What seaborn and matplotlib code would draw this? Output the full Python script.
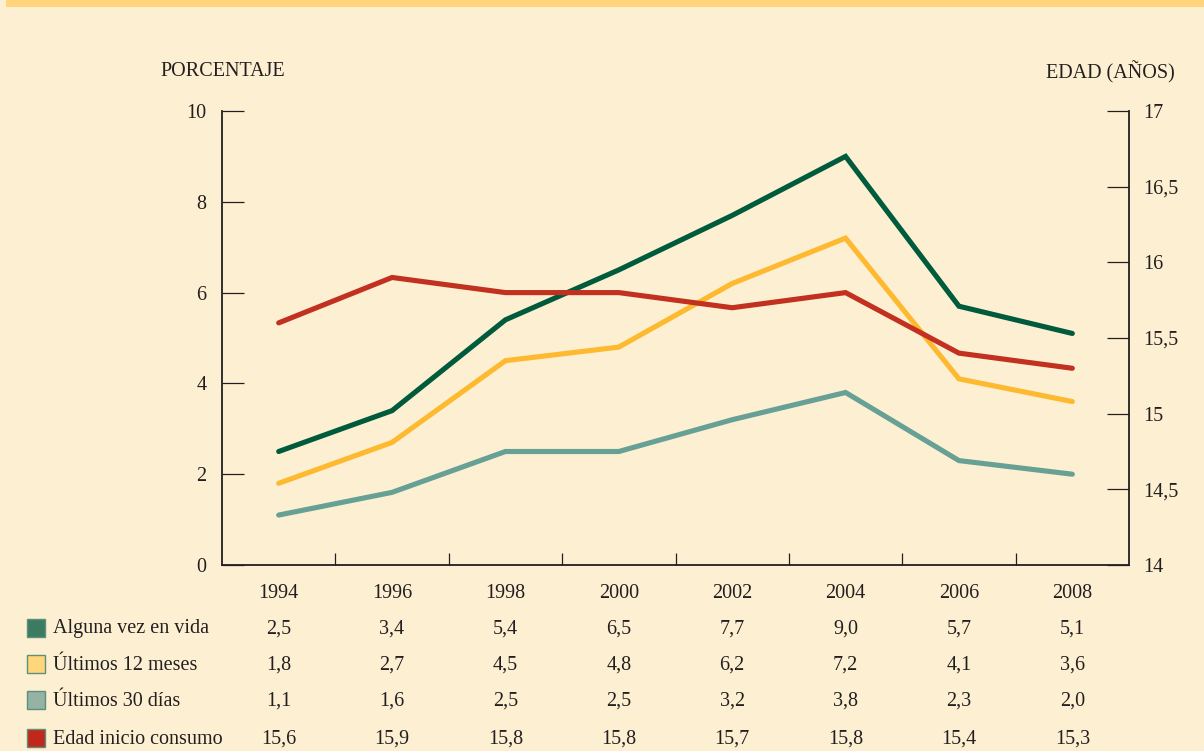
import matplotlib
matplotlib.use("Agg")
import matplotlib.pyplot as plt
from matplotlib.patches import Rectangle
from matplotlib.ticker import FuncFormatter
import pandas as pd
import seaborn as sns

# ---- data -------------------------------------------------------------
years = [1994, 1996, 1998, 2000, 2002, 2004, 2006, 2008]
alguna_vez = [2.5, 3.4, 5.4, 6.5, 7.7, 9.0, 5.7, 5.1]
ultimos_12 = [1.8, 2.7, 4.5, 4.8, 6.2, 7.2, 4.1, 3.6]
ultimos_30 = [1.1, 1.6, 2.5, 2.5, 3.2, 3.8, 2.3, 2.0]
edad_inicio = [15.6, 15.9, 15.8, 15.8, 15.7, 15.8, 15.4, 15.3]

series_labels = ["Alguna vez en vida", "Últimos 12 meses",
                 "Últimos 30 días", "Edad inicio consumo"]
left_title = "PORCENTAJE"
right_title = "EDAD (AÑOS)"

# ---- style --------------------------------------------------------------
BG = "#fdf0d2"
BAND = "#ffd47a"
INK = "#231f20"
FS = 14.5
line_colors = ["#005a3c", "#fdb92f", "#67a094", "#c2301f"]
swatch_colors = ["#3d7a62", "#ffd67a", "#94b3a4", "#c0281b"]

sns.set_style("ticks")
plt.rcParams["font.family"] = ["Liberation Serif", "DejaVu Serif"]
plt.rcParams["font.size"] = FS
plt.rcParams["text.color"] = INK
plt.rcParams["axes.edgecolor"] = INK
plt.rcParams["xtick.color"] = INK
plt.rcParams["ytick.color"] = INK

W, H = 1204, 751
fig = plt.figure(figsize=(W / 100, H / 100), dpi=100, facecolor=BG)

# top band
fig.patches.append(Rectangle((6 / W, 1 - 7 / H), 1 - 6 / W, 7 / H,
                             transform=fig.transFigure, facecolor=BAND,
                             edgecolor="none", zorder=0))

x0, x1, y0, y1 = 222, 1129, 111, 565
ax = fig.add_axes([x0 / W, 1 - y1 / H, (x1 - x0) / W, (y1 - y0) / H])
ax.set_facecolor("none")

pct = pd.DataFrame({
    "año": years * 3,
    "valor": alguna_vez + ultimos_12 + ultimos_30,
    "serie": ([series_labels[0]] * len(years) + [series_labels[1]] * len(years)
              + [series_labels[2]] * len(years)),
})
line_kw = dict(linewidth=3.7, solid_capstyle="round", solid_joinstyle="miter")
sns.lineplot(data=pct, x="año", y="valor", hue="serie",
             hue_order=series_labels[:3], palette=line_colors[:3],
             legend=False, ax=ax, **line_kw)

ax2 = ax.twinx()
ax2.set_facecolor("none")
edad = pd.DataFrame({"año": years, "edad": edad_inicio})
sns.lineplot(data=edad, x="año", y="edad", color=line_colors[3],
             legend=False, ax=ax2, **line_kw)

# ---- axes -------------------------------------------------------------
ax.set_xlim(years[0] - 1, years[-1] + 1)
ax.set_ylim(0, 10)
ax.set_yticks(range(0, 11, 2))
ax.set_xticks(years)
ax.set_xticks([y + 1 for y in years[:-1]], minor=True)
ax.set_xlabel("")
ax.set_ylabel("")
ax.tick_params(axis="x", which="major", length=0, pad=14, labelsize=FS)
ax.tick_params(axis="x", which="minor", direction="in", length=8.6, width=0.9)
ax.tick_params(axis="y", direction="in", length=16, width=0.9, pad=11,
               labelsize=FS)
for s in ("top", "right"):
    ax.spines[s].set_visible(False)
for s in ("left", "bottom"):
    ax.spines[s].set_linewidth(1.3)

ax2.set_ylim(14, 17)
ax2.set_yticks([14 + 0.5 * i for i in range(7)])
ax2.yaxis.set_major_formatter(
    FuncFormatter(lambda v, _: (f"{v:g}").replace(".", ",")))
ax2.set_ylabel("")
ax2.tick_params(axis="y", direction="in", length=16, width=0.9, pad=10,
                labelsize=FS)
for s in ("top", "left", "bottom"):
    ax2.spines[s].set_visible(False)
ax2.spines["right"].set_linewidth(1.3)

fig.text(223 / W, 1 - 72 / H, left_title, ha="center", va="center", fontsize=FS)
fig.text(1110 / W, 1 - 72 / H, right_title, ha="center", va="center", fontsize=FS)

# ---- data table below the chart ----------------------------------------
table_rows = [alguna_vez, ultimos_12, ultimos_30, edad_inicio]
row_y = [629, 665, 701, 739]
col_tf = matplotlib.transforms.blended_transform_factory(ax.transData,
                                                         fig.transFigure)
for label, values, sw, yy in zip(series_labels, table_rows, swatch_colors, row_y):
    fy = 1 - yy / H
    fig.patches.append(Rectangle((27 / W, fy - 8 / H), 18 / W, 18 / H,
                                 transform=fig.transFigure, facecolor=sw,
                                 edgecolor="#5e8f7b", linewidth=1.0))
    fig.text(53 / W, fy, label, ha="left", va="center", fontsize=FS)
    for yr, v in zip(years, values):
        fig.text(yr, fy, f"{v:.1f}".replace(".", ","), transform=col_tf,
                 ha="center", va="center", fontsize=FS)

fig.savefig("out.png", dpi=100, facecolor=BG)
